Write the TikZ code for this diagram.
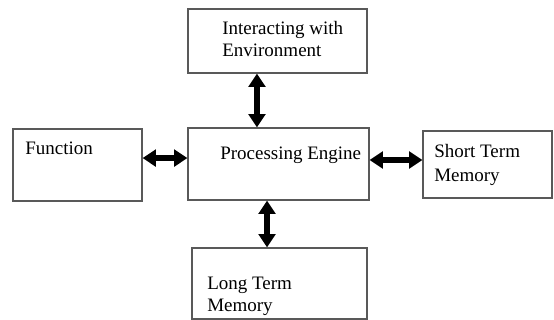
\documentclass[tikz,border=0pt]{standalone}
\usepackage{fontspec}
\setmainfont{Liberation Serif}
\usetikzlibrary{arrows.meta}

\begin{document}
\begin{tikzpicture}[
      x=0.75pt, y=-0.75pt,
      box/.style={draw=black!65, line width=0.9pt, inner sep=0pt},
      txt/.style={anchor=base west, inner sep=0pt, align=left,
        font=\fontsize{14.25}{16.5}\selectfont},
      dbl/.style={line width=5pt,
        {Triangle[width=12.5pt,length=10pt]}-{Triangle[width=12.5pt,length=10pt]}}]
    \useasboundingbox (0,0) rectangle (554,320);
    % boxes
    \node[box, minimum width=134.25pt, minimum height=48pt] (env) at (277.5,41) {};
    \node[box, minimum width=135.75pt, minimum height=54pt] (proc) at (278.5,164) {};
    \node[box, minimum width=96.75pt, minimum height=54pt] (func) at (77.5,165) {};
    \node[box, minimum width=96.75pt, minimum height=50.25pt] (stm) at (487.5,164.5) {};
    \node[box, minimum width=131.25pt, minimum height=53.25pt] (ltm) at (279.5,283.5) {};
    % texts (base = last line)
    \node[txt] (envtxt) at (222,57) {Interacting with\\Environment};
    \node[txt] (proctxt) at (220,160) {Processing Engine};
    \node[txt] (functxt) at (25,155) {Function};
    \node[txt, font=\fontsize{14.25}{18}\selectfont] (stmtxt) at (434,182) {Short Term\\Memory};
    \node[txt] (ltmtxt) at (207,312) {Long Term\\Memory};
    % arrows
    \draw[dbl] ([xshift=-15.4pt]env.south) -- ([xshift=-15.4pt]env.south |- proc.north);
    \draw[dbl] ([xshift=-8.6pt]proc.south) -- ([xshift=-8.6pt]proc.south |- ltm.north);
    \draw[dbl] ([yshift=5.2pt]func.east) -- ([yshift=5.2pt]func.east -| proc.west);
    \draw[dbl] ([yshift=3pt]proc.east) -- ([yshift=3pt]proc.east -| stm.west);
  \end{tikzpicture}
\end{document}
